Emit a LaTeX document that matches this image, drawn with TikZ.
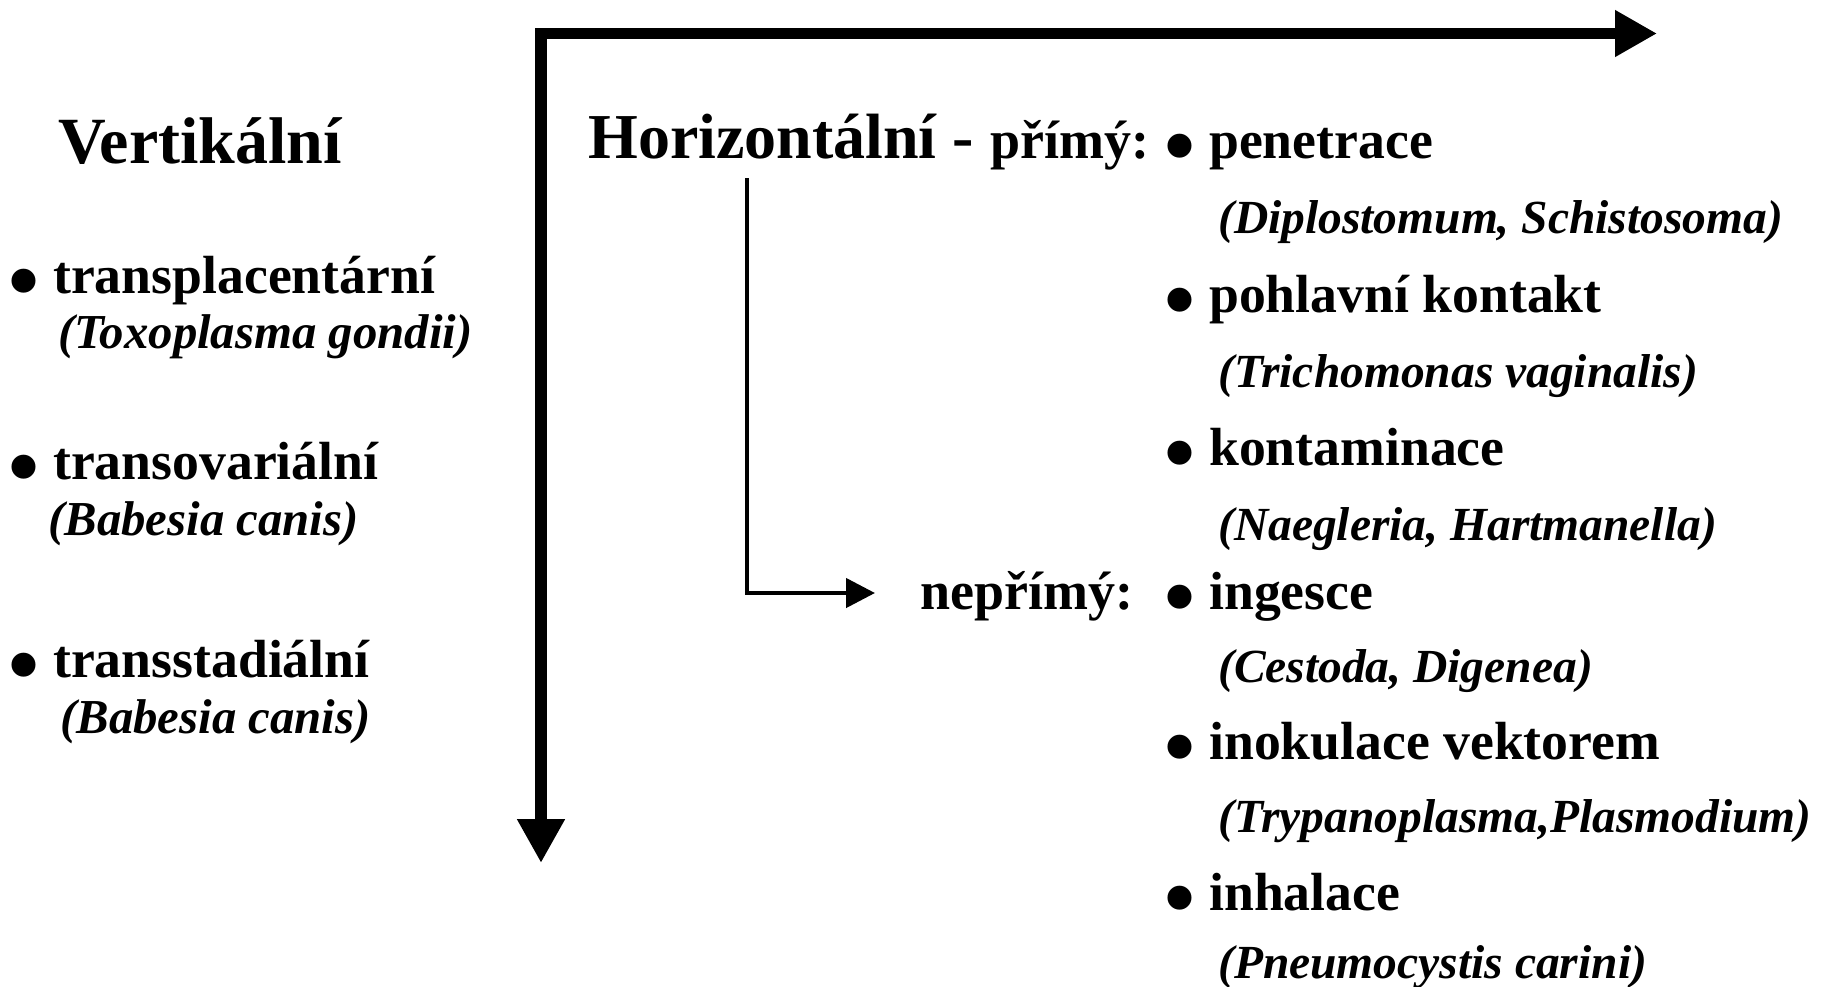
\documentclass[tikz,border=0pt]{standalone}
\usepackage{fontspec}
\usepackage{graphicx}
\setmainfont{Liberation Serif}
\usetikzlibrary{arrows.meta}
\newcommand{\bul}{\makebox[40pt][l]{\hspace{-5pt}\raisebox{-17pt}{\scalebox{1.65}{•}}}}
\begin{document}
\begin{tikzpicture}[x=1pt,y=-1pt,
  txt/.style={anchor=base west, inner sep=0pt, font=\bfseries\fontsize{53.7}{60}\selectfont},
  lbl/.style={anchor=base west, inner sep=0pt, font=\bfseries\fontsize{54}{60}\selectfont},
  ital/.style={anchor=base west, inner sep=0pt, font=\bfseries\itshape\fontsize{47.5}{55}\selectfont},
  lital/.style={ital, font=\bfseries\itshape\fontsize{48.8}{55}\selectfont},
  head/.style={anchor=base west, inner sep=0pt, font=\bfseries\fontsize{64}{70}\selectfont},
  axis/.style={line width=11.5pt, line join=miter,
    {Triangle[length=44pt,width=45pt]}-{Triangle[length=42pt,width=44pt]}},
  link/.style={line width=4.5pt, line join=miter, -{Triangle[length=29pt,width=29pt]}}]
\fill[white] (0,0) rectangle (1822,986);
\useasboundingbox (0,0) rectangle (1822,986);

% axes
\coordinate (corner) at (541,33.5);
\coordinate (xend) at (1657,33.5);
\coordinate (yend) at (541,863);
\draw[axis] (yend) -- (corner) -- (xend);

% left column
\node[head, font=\bfseries\fontsize{66}{72}\selectfont] (vert) at (58,163) {Vertikální};
\node[txt] (v1) at (13,293) {\bul transplacentární};
\node[lital] (v1s) at (58,348) {(Toxoplasma gondii)};
\node[txt] (v2) at (13,479) {\bul transovariální};
\node[lital] (v2s) at (48,535) {(Babesia canis)};
\node[txt] (v3) at (13,677) {\bul transstadiální};
\node[lital] (v3s) at (60,733) {(Babesia canis)};

% right column
\node[head] (hor) at (588,158) {Horizontální -};
\node[lbl] (prim) at (990,158) {přímý:};
\node[txt] (r1) at (1169,158) {\bul penetrace};
\node[ital] (r1s) at (1218,233) {(Diplostomum, Schistosoma)};
\node[txt] (r2) at (1169,312) {\bul pohlavní kontakt};
\node[ital] (r2s) at (1218,387) {(Trichomonas vaginalis)};
\node[txt] (r3) at (1169,465) {\bul kontaminace};
\node[ital] (r3s) at (1218,540) {(Naegleria, Hartmanella)};
\node[lbl] (neprim) at (920,609) {nepřímý:};
\node[txt] (r4) at (1169,609) {\bul ingesce};
\node[ital] (r4s) at (1218,682) {(Cestoda, Digenea)};
\node[txt] (r5) at (1169,759) {\bul inokulace vektorem};
\node[ital] (r5s) at (1218,832) {(Trypanoplasma,Plasmodium)};
\node[txt] (r6) at (1169,910) {\bul inhalace};
\node[ital] (r6s) at (1218,978) {(Pneumocystis carini)};

% connector from Horizontální to nepřímý
\coordinate (ls) at (747,178);
\coordinate (le) at (875,593);
\draw[link] (ls) |- (le);
\end{tikzpicture}
\end{document}
